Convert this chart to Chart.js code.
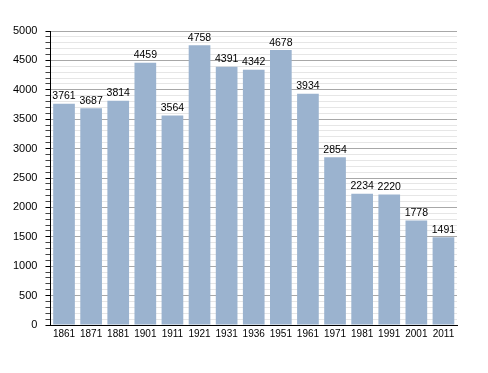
<!DOCTYPE html>
<html>
<head>
<meta charset="utf-8">
<script src="https://cdn.jsdelivr.net/npm/chart.js@4/dist/chart.umd.min.js"></script>
<style>
    html, body { margin: 0; padding: 0; background: #fff; }
    canvas { display: block; }
</style>
</head>
<body>
<canvas id="popChart" width="488" height="373"></canvas>
<script>
// Census years and population
const years = ['1861', '1871', '1881', '1901', '1911', '1921', '1931', '1936',
               '1951', '1961', '1971', '1981', '1991', '2001', '2011'];
const population = [3761, 3687, 3814, 4459, 3564, 4758, 4391, 4342,
                    4678, 3934, 2854, 2234, 2220, 1778, 1491];
const yMin = 0;
const yMax = 5000;
const yMinorStep = 100;
const yMajorStep = 500;

// draws the value above each bar
const valueLabels = {
    id: 'valueLabels',
    afterDatasetsDraw(chart) {
        const ctx = chart.ctx;
        const meta = chart.getDatasetMeta(0);
        ctx.save();
        ctx.font = '10.5px "Liberation Sans", Arial, sans-serif';
        ctx.fillStyle = '#000';
        ctx.textAlign = 'center';
        ctx.textBaseline = 'bottom';
        meta.data.forEach((bar, i) => {
            ctx.fillText(population[i], bar.x, bar.y - 2);
        });
        ctx.restore();
    }
};

const ctx = document.getElementById('popChart').getContext('2d');
new Chart(ctx, {
    type: 'bar',
    data: {
        labels: years,
        datasets: [{
            data: population,
            backgroundColor: '#9bb3cf',
            borderWidth: 0,
            barPercentage: 0.8,
            categoryPercentage: 1.0
        }]
    },
    options: {
        responsive: false,
        animation: false,
        layout: {
            padding: { left: 5, right: 31, top: 31, bottom: 30 }
        },
        plugins: {
            legend: { display: false },
            tooltip: { enabled: false }
        },
        scales: {
            x: {
                grid: { display: false, drawTicks: false },
                border: { color: '#000', width: 1 },
                ticks: {
                    color: '#000',
                    padding: 3,
                    maxRotation: 0,
                    autoSkip: false,
                    font: { family: '"Liberation Sans", Arial, sans-serif', size: 10 }
                }
            },
            y: {
                min: yMin,
                max: yMax,
                border: { color: '#000', width: 1 },
                grid: {
                    color: (c) => c.tick && c.tick.value % yMajorStep === 0 ? '#a8a8a8' : '#e6e6e6',
                    tickColor: (c) => c.tick && c.tick.value % yMajorStep === 0 ? '#000' : '#444',
                    tickLength: 5
                },
                ticks: {
                    stepSize: yMinorStep,
                    autoSkip: false,
                    padding: 8,
                    color: '#000',
                    font: { family: '"Liberation Sans", Arial, sans-serif', size: 11 },
                    callback: (v) => v % yMajorStep === 0 ? v : ''
                }
            }
        }
    },
    plugins: [valueLabels]
});
</script>
</body>
</html>
